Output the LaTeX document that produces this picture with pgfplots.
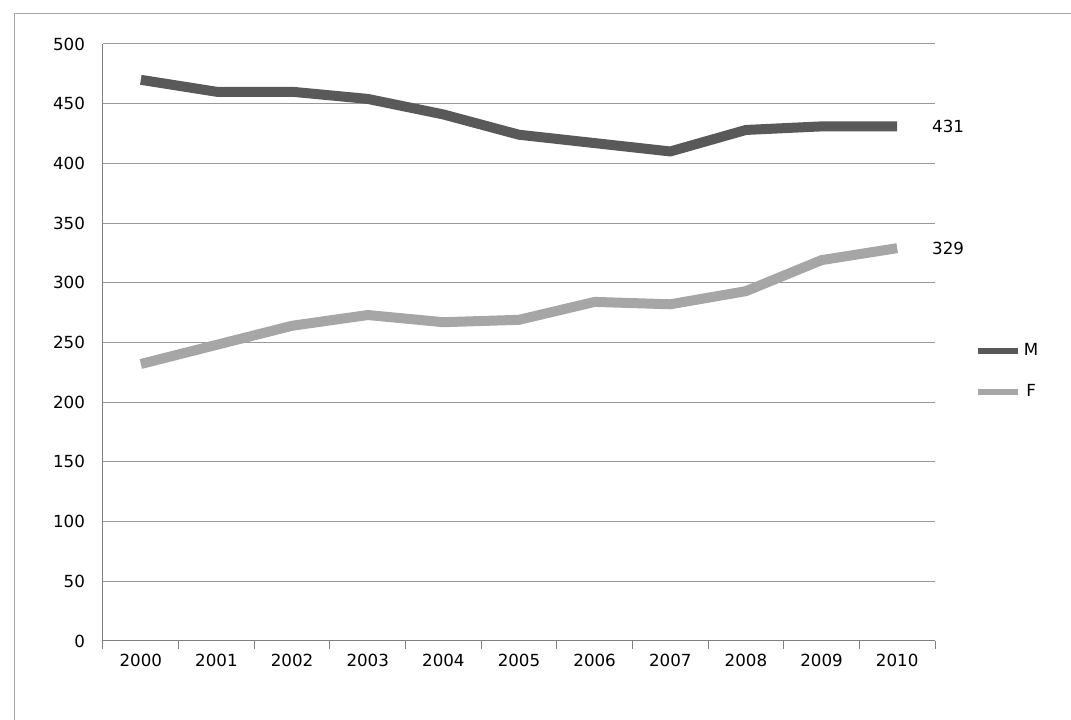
\documentclass[border=0pt]{standalone}
\usepackage{pgfplots}
\pgfplotsset{compat=1.18}
\usepackage{fontspec}
\setmainfont{DejaVu Sans}
\definecolor{colM}{HTML}{595959}
\definecolor{colF}{HTML}{A6A6A6}
\begin{document}
\begin{tikzpicture}
\useasboundingbox (0,0) rectangle (803.25pt,540pt);
\draw[gray!70,line width=0.75pt] (10.5pt,-8pt) rectangle (810pt,529.5pt);
\begin{axis}[at={(77.25pt,59.25pt)},anchor=south west,scale only axis,
 width=624pt,height=447.75pt,
 xmin=-0.5,xmax=10.5,ymin=0,ymax=500,
 ytick={0,50,...,500},
 xtick={0,...,10},xticklabels={2000,2001,2002,2003,2004,2005,2006,2007,2008,2009,2010},
 axis x line=bottom, axis y line=left,
 axis line style={gray,-,line width=0.75pt},
 x axis line style={-},
 ymajorgrids, grid style={gray!80,line width=0.75pt},
 major tick length=0pt,
 extra x ticks={-0.5,0.5,...,10.5}, extra x tick labels={},
 extra x tick style={major tick length=6pt,tick align=outside,tick style={gray,line width=0.75pt},grid=none},
 ytick style={gray},
 tick label style={font=\fontsize{12.5}{14}\selectfont},
 /pgf/number format/assume math mode=true,
 xticklabel style={yshift=-6pt},
 yticklabel style={xshift=-10pt},
 clip=false,
 legend style={at={(1.048,0.452)},anchor=west,draw=none,fill=none,font=\fontsize{12.5}{14}\selectfont,row sep=16pt,inner sep=0pt},
 legend image code/.code={\draw[#1,line width=4.5pt] (0pt,0pt)--(30pt,0pt);},
]
\addplot[colM,line width=7.5pt,line join=round] coordinates {(0,470)(1,460)(2,460)(3,454)(4,441)(5,424)(6,417)(7,410)(8,428)(9,431)(10,431)};
\addplot[colF,line width=7.5pt,line join=round] coordinates {(0,232)(1,248)(2,264)(3,273)(4,267)(5,269)(6,284)(7,282)(8,293)(9,319)(10,329)};
\legend{M,F}
\node[anchor=west,font=\fontsize{12.5}{14}\selectfont] at (axis cs:10.4,431) {431};
\node[anchor=west,font=\fontsize{12.5}{14}\selectfont] at (axis cs:10.4,329) {329};
\end{axis}
\end{tikzpicture}
\end{document}
